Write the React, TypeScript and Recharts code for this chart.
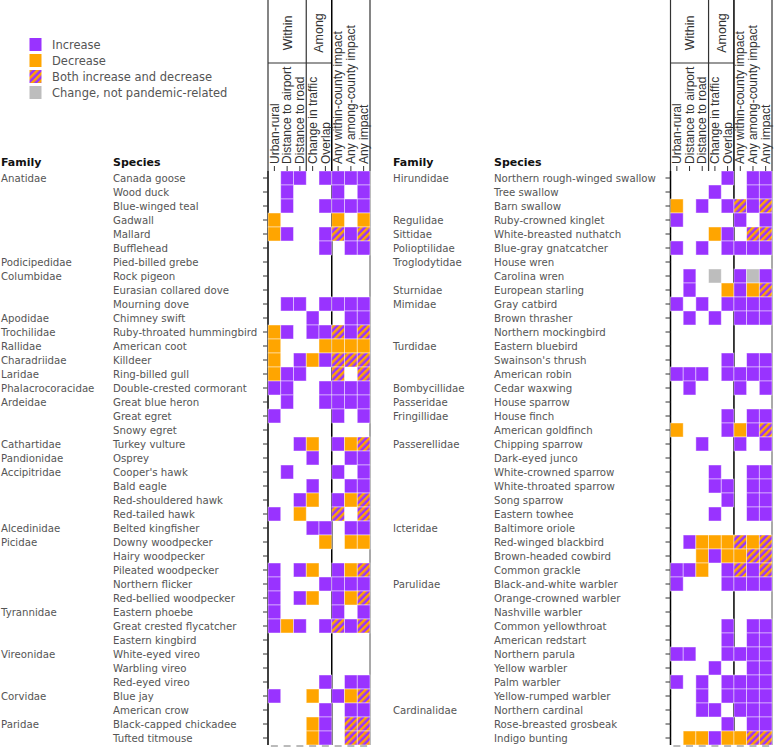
import React from 'react'
import { ScatterChart, Scatter, XAxis, YAxis, ReferenceLine } from 'recharts'

const PURPLE = '#9933ff'
const ORANGE = '#ffa500'
const GREY = '#bdbdbd'
const TEXT = '#555'

const columns = [
  'Urban-rural',
  'Distance to airport',
  'Distance to road',
  'Change in traffic',
  'Overlap',
  'Any within-county impact',
  'Any among-county impact',
  'Any impact',
]
const groups = [
  { label: 'Within', from: 0, to: 2 },
  { label: 'Among', from: 3, to: 4 },
]
const legendItems = [
  { code: 'I', label: 'Increase' },
  { code: 'D', label: 'Decrease' },
  { code: 'B', label: 'Both increase and decrease' },
  { code: 'G', label: 'Change, not pandemic-related' },
]

// I = increase, D = decrease, B = both, G = change not pandemic-related, . = none
const leftFamilies = ['Anatidae', 'Podicipedidae', 'Columbidae', 'Apodidae', 'Trochilidae', 'Rallidae', 'Charadriidae', 'Laridae', 'Phalacrocoracidae', 'Ardeidae', 'Cathartidae', 'Pandionidae', 'Accipitridae', 'Alcedinidae', 'Picidae', 'Tyrannidae', 'Vireonidae', 'Corvidae', 'Paridae']
const leftFamilySizes = [6, 1, 3, 1, 1, 1, 1, 1, 1, 3, 1, 1, 4, 1, 5, 3, 3, 2, 2]
const leftSpecies = ['Canada goose', 'Wood duck', 'Blue-winged teal', 'Gadwall', 'Mallard', 'Bufflehead', 'Pied-billed grebe', 'Rock pigeon', 'Eurasian collared dove', 'Mourning dove', 'Chimney swift', 'Ruby-throated hummingbird', 'American coot', 'Killdeer', 'Ring-billed gull', 'Double-crested cormorant', 'Great blue heron', 'Great egret', 'Snowy egret', 'Turkey vulture', 'Osprey', "Cooper's hawk", 'Bald eagle', 'Red-shouldered hawk', 'Red-tailed hawk', 'Belted kingfisher', 'Downy woodpecker', 'Hairy woodpecker', 'Pileated woodpecker', 'Northern flicker', 'Red-bellied woodpecker', 'Eastern phoebe', 'Great crested flycatcher', 'Eastern kingbird', 'White-eyed vireo', 'Warbling vireo', 'Red-eyed vireo', 'Blue jay', 'American crow', 'Black-capped chickadee', 'Tufted titmouse']
const leftCells = [
  '.II.IIII', '.I...I.I', '.I..IIII', 'D....D.D', 'DI..IBIB', '....I.II', '........',
  '........', '........', '.II.IIII', '...I..II', 'DI.IIBIB', 'D...DDDD', 'D.IDIBBB',
  'DII..B.B', 'II..IIII', '.I..IIII', 'I....I.I', '........', '..ID.IDB', '...I..II',
  '.I...I.I', '...I..II', '..ID.IDB', 'I.D..B.B', '...II.II', '....D.DD', '........',
  'I.ID.IDB', 'I...IIII', 'I.ID.IDB', 'I....I.I', 'IDI.IBIB', '........', '........',
  '........', '....I.II', 'I..D.IDB', '....I.II', '...DI.BB', '...DI.BB',
]

const rightFamilies = ['Hirundidae', 'Regulidae', 'Sittidae', 'Polioptilidae', 'Troglodytidae', 'Sturnidae', 'Mimidae', 'Turdidae', 'Bombycillidae', 'Passeridae', 'Fringillidae', 'Passerellidae', 'Icteridae', 'Parulidae', 'Cardinalidae']
const rightFamilySizes = [3, 1, 1, 1, 2, 1, 3, 3, 1, 1, 2, 6, 4, 9, 3]
const rightSpecies = ['Northern rough-winged swallow', 'Tree swallow', 'Barn swallow', 'Ruby-crowned kinglet', 'White-breasted nuthatch', 'Blue-gray gnatcatcher', 'House wren', 'Carolina wren', 'European starling', 'Gray catbird', 'Brown thrasher', 'Northern mockingbird', 'Eastern bluebird', "Swainson's thrush", 'American robin', 'Cedar waxwing', 'House sparrow', 'House finch', 'American goldfinch', 'Chipping sparrow', 'Dark-eyed junco', 'White-crowned sparrow', 'White-throated sparrow', 'Song sparrow', 'Eastern towhee', 'Baltimore oriole', 'Red-winged blackbird', 'Brown-headed cowbird', 'Common grackle', 'Black-and-white warbler', 'Orange-crowned warbler', 'Nashville warbler', 'Common yellowthroat', 'American redstart', 'Northern parula', 'Yellow warbler', 'Palm warbler', 'Yellow-rumped warbler', 'Northern cardinal', 'Rose-breasted grosbeak', 'Indigo bunting']
const rightCells = [
  '....I.II', '...I..II', 'D.I.IBIB', 'I....I.I', '...DI.BB', 'I.I.IIII', '........',
  '.I.G.IGI', '.I..DIDB', 'I.I.IIII', '.I.I.III', '........', '........', '....I.II',
  'III.IIII', '.I...I.I', '........', '....I.II', 'D...IDIB', '..I..I.I', '........',
  '...I..II', '...II.II', '....I.II', '...I..II', '........', '.IDDDBDB', '..DIDDBB',
  'IID.IBIB', 'I...IIII', '........', '........', '....I.II', '....I.II', 'II..IIII',
  '...I..II', 'I.I.IIII', '..I.IIII', '..II.III', '....I.II', '.DDIDDBB',
]

const CHART_H = 747
const HEAD_H = 171
const FOOT_H = 2
const LABEL_FONT = '"DejaVu Sans", Verdana, sans-serif'
const HEAD_FONT = '"Liberation Sans", Arial, sans-serif'

const Stripes = ({ id }: { id: string }) => (
  <defs>
    <pattern id={id} patternUnits="userSpaceOnUse" width={5} height={5} patternTransform="rotate(45)">
      <rect width={5} height={5} fill={PURPLE} />
      <rect width={2.5} height={5} fill={ORANGE} />
    </pattern>
  </defs>
)

const fillFor = (code: string, pid: string) =>
  code === 'I' ? PURPLE : code === 'D' ? ORANGE : code === 'G' ? GREY : `url(#${pid})`

type PanelProps = {
  id: string
  families: string[]
  sizes: number[]
  species: string[]
  cells: string[]
  width: number
  axisW: number
  famX: number
  spX: number
}

function Panel({ id, families, sizes, species, cells, width, axisW, famX, spX }: PanelProps) {
  const plotW = width - axisW - 2
  const colW = plotW / columns.length
  const rowH = (CHART_H - HEAD_H - FOOT_H) / species.length
  const pid = `stripes-${id}`

  const famAt: Record<number, string> = {}
  let start = 0
  families.forEach((f, i) => {
    famAt[start] = f
    start += sizes[i]
  })

  const data: { x: number; y: number; s: string }[] = []
  cells.forEach((row, y) =>
    row.split('').forEach((s, x) => {
      if (s !== '.') data.push({ x, y, s })
    })
  )

  const rows = species.map((_, i) => i)
  const cols = columns.map((_, i) => i)

  const speciesTick = (props: any) => {
    const { y, payload, index } = props
    const fam = famAt[payload.value]
    return (
      <g fontFamily={LABEL_FONT}>
        {index === 0 && (
          <g fontWeight="bold" fontSize={11} fill="#111">
            <text x={famX} y={162} dy="0.35em">Family</text>
            <text x={spX} y={162} dy="0.35em">Species</text>
          </g>
        )}
        {fam && (
          <text x={famX} y={y} dy="0.35em" fontSize={10.2} fill={TEXT}>{fam}</text>
        )}
        <text x={spX} y={y} dy="0.35em" fontSize={10.2} fill={TEXT}>{species[payload.value]}</text>
      </g>
    )
  }

  const headTick = (props: any) => {
    const { x, payload, index } = props
    const left = x - colW / 2
    return (
      <g fontFamily={HEAD_FONT}>
        <line x1={x} x2={x} y1={166} y2={HEAD_H} stroke="#333" />
        <text transform={`translate(${x},164) rotate(-90)`} dy="0.35em" fontSize={12} fill="#333">
          {columns[payload.value]}
        </text>
        {index === 0 && (
          <g>
            <g stroke="#333" strokeWidth={1.2}>
              <line x1={left} x2={left} y1={0} y2={HEAD_H} />
              <line x1={left + 3 * colW} x2={left + 3 * colW} y1={0} y2={HEAD_H} />
              <line x1={left + 8 * colW} x2={left + 8 * colW} y1={0} y2={HEAD_H} />
              <line x1={left} x2={left + 5 * colW} y1={63} y2={63} />
            </g>
            <line x1={left + 5 * colW} x2={left + 5 * colW} y1={0} y2={HEAD_H} stroke="#000" strokeWidth={1.5} />
            {groups.map((g) => {
              const gx = left + ((g.from + g.to + 1) / 2) * colW
              return (
                <text key={g.label} transform={`translate(${gx},33) rotate(-90)`} dy="0.35em"
                  textAnchor="middle" fontSize={12.5} fill="#333">
                  {g.label}
                </text>
              )
            })}
          </g>
        )}
      </g>
    )
  }

  const footTick = (props: any) => {
    const { x } = props
    return <line x1={x - 3.5} x2={x + 3.5} y1={CHART_H - 1} y2={CHART_H - 1} stroke="#777" strokeWidth={1} />
  }

  const cellShape = (props: any) => {
    const { cx, cy, payload } = props
    if (cx == null || cy == null) return <g />
    return (
      <rect x={cx - colW / 2} y={cy - rowH / 2} width={colW} height={rowH}
        fill={fillFor(payload.s, pid)} stroke="#fff" strokeOpacity={0.55} strokeWidth={0.8} />
    )
  }

  return (
    <ScatterChart width={width} height={CHART_H} margin={{ top: 0, right: 2, bottom: 0, left: 0 }}>
      <Stripes id={pid} />
      <XAxis xAxisId="top" orientation="top" type="number" dataKey="x" domain={[-0.5, 7.5]}
        ticks={cols} interval={0} height={HEAD_H} axisLine={false} tickLine={false} tick={headTick} />
      <XAxis xAxisId="bottom" orientation="bottom" type="number" dataKey="x" domain={[-0.5, 7.5]}
        ticks={cols} interval={0} height={FOOT_H} axisLine={false} tickLine={false} tick={footTick} />
      <YAxis type="number" dataKey="y" domain={[-0.5, species.length - 0.5]} reversed ticks={rows}
        interval={0} width={axisW} tickSize={5} tickLine={{ stroke: '#333' }}
        axisLine={{ stroke: '#000', strokeWidth: 1.5 }} tick={speciesTick} />
      <Scatter data={data} xAxisId="top" shape={() => <g />} isAnimationActive={false} />
      <Scatter data={data} xAxisId="bottom" shape={cellShape} isAnimationActive={false} />
      <ReferenceLine xAxisId="bottom" x={4.5} stroke="#000" strokeWidth={1.5} />
      <ReferenceLine xAxisId="bottom" x={7.5} stroke="#555" strokeWidth={1} />
    </ScatterChart>
  )
}

function LegendBox() {
  return (
    <svg width={240} height={110} style={{ position: 'absolute', left: 0, top: 0 }}>
      <Stripes id="stripes-legend" />
      {legendItems.map((it, i) => (
        <g key={it.code}>
          <rect x={29.5} y={38 + i * 16} width={12} height={13} fill={fillFor(it.code, 'stripes-legend')} />
          <text x={52} y={44.5 + i * 16} dy="0.35em" fontSize={11.5} fill={TEXT} fontFamily={LABEL_FONT}>
            {it.label}
          </text>
        </g>
      ))}
    </svg>
  )
}

export default function App() {
  return (
    <div style={{ position: 'absolute', left: 0, top: 0, width: 775, height: 747, background: '#fff' }}>
      <div style={{ position: 'absolute', left: 0, top: 0 }}>
        <Panel id="left" families={leftFamilies} sizes={leftFamilySizes} species={leftSpecies}
          cells={leftCells} width={372} axisW={268} famX={1} spX={113} />
      </div>
      <div style={{ position: 'absolute', left: 392, top: 0 }}>
        <Panel id="right" families={rightFamilies} sizes={rightFamilySizes} species={rightSpecies}
          cells={rightCells} width={382} axisW={278.5} famX={1} spX={102} />
      </div>
      <LegendBox />
    </div>
  )
}
